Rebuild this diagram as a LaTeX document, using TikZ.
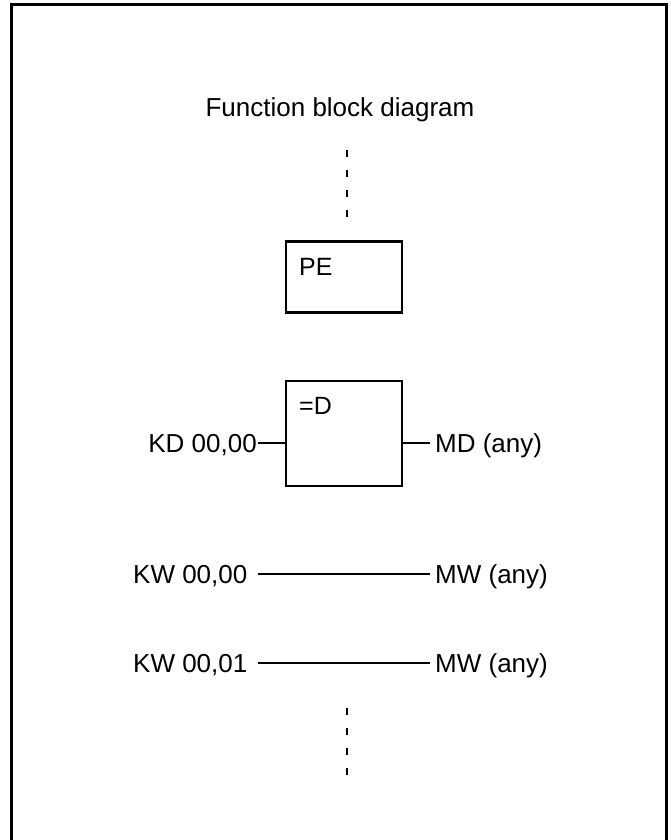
\documentclass[tikz,border=0pt]{standalone}
\usepackage{fontspec}
\setmainfont{Liberation Sans}
\begin{document}
\begin{tikzpicture}[x=1pt,y=-1pt,
  lbl/.style={font=\fontsize{26}{30}\selectfont, inner sep=0pt, text height=18pt, text depth=0pt},
  inlbl/.style={font=\fontsize{25}{30}\selectfont, inner sep=0pt, text height=17pt, text depth=0pt, anchor=west},
  blk/.style={draw, line width=2.4pt, inner sep=0pt},
  wire/.style={line width=2.2pt},
  dots/.style={line width=2.2pt, dash pattern=on 7pt off 13pt},
  frame/.style={line width=3pt}]
\useasboundingbox (0,0) rectangle (670,840);
\draw[frame] (11,840) -- (11,5) -- (666,5) -- (666,840);

\node[lbl] (title) at (340,108) {Function block diagram};
\coordinate (d1) at (347,150);
\coordinate (d2) at (347,218);
\draw[dots] (d1) -- (d2);

\node[blk, minimum width=116pt, minimum height=71pt] (pe) at (344,277) {};
\node[inlbl] (petext) at (299,267) {PE};

\node[blk, minimum width=116pt, minimum height=105pt] (eq) at (344,433.5) {};
\node[inlbl] (eqtext) at (299,406) {=D};

\node[lbl, anchor=east] (kd) at (257,443) {KD 00,00};
\node[lbl, anchor=west] (md) at (435,443) {MD (any)};
\draw[wire, shorten <=1pt] (kd.east) -- (kd.east -| eq.west);
\draw[wire, shorten >=5pt] (eq.east |- md.west) -- (md.west);

\node[lbl, anchor=west] (kw0) at (133,574) {KW 00,00};
\node[lbl, anchor=west] (mw0) at (435,574) {MW (any)};
\draw[wire, shorten <=10pt, shorten >=5pt] (kw0.east) -- (mw0.west);

\node[lbl, anchor=west] (kw1) at (133,663) {KW 00,01};
\node[lbl, anchor=west] (mw1) at (435,663) {MW (any)};
\draw[wire, shorten <=10pt, shorten >=5pt] (kw1.east) -- (mw1.west);

\coordinate (d3) at (347,708);
\coordinate (d4) at (347,776);
\draw[dots] (d3) -- (d4);
\end{tikzpicture}
\end{document}
